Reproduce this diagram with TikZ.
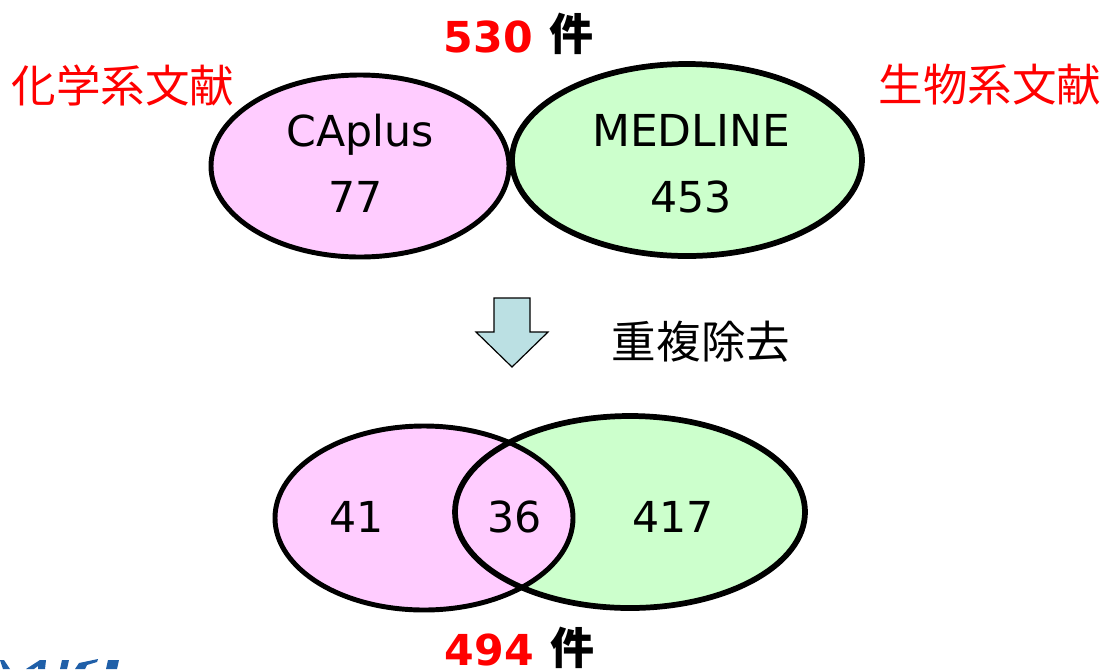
\documentclass[tikz,border=0pt]{standalone}
\usepackage{fontspec}
\setmainfont{DejaVu Sans}
\newfontfamily\cjk{Noto Sans CJK JP}
\definecolor{pinkfill}{HTML}{FFCCFF}
\definecolor{greenfill}{HTML}{CCFFCC}
\definecolor{arrowfill}{HTML}{BBE0E3}
\definecolor{logoblue}{HTML}{1F5FA8}
\tikzset{
  x=0.75pt,y=-0.75pt,
  venn/.style={draw=black,line width=4.3pt},
  vennl/.style={draw=black,line width=3.7pt},
  num/.style={inner sep=0pt,anchor=base,font=\fontsize{32}{36}\selectfont},
  jp/.style={inner sep=0pt,font=\fontsize{33.4}{36}\selectfont\cjk},
  redjp/.style={jp,text=red},
  total/.style={inner sep=0pt,anchor=base east,font=\fontsize{32}{34}\selectfont\bfseries},
  kensym/.style={inner sep=0pt,anchor=base west,font=\fontsize{33}{34}\selectfont\bfseries\cjk},
  logo/.style={fill=logoblue,draw=none}
}
\begin{document}
\begin{tikzpicture}
\useasboundingbox (0,0) rectangle (1102,669);
\fill[white] (0,0) rectangle (1102,669);
% top ellipses
\draw[vennl,fill=pinkfill] (360,166) ellipse [x radius=149,y radius=91];
\draw[venn,fill=greenfill] (687,160) ellipse [x radius=175,y radius=96];
% bottom ellipses
\draw[venn,fill=greenfill] (630,512) ellipse [x radius=175,y radius=96];
\draw[vennl,fill=pinkfill] (424,518) ellipse [x radius=149,y radius=92];
\begin{scope}
\clip (424,518) ellipse [x radius=149,y radius=92];
\draw[venn] (630,512) ellipse [x radius=175,y radius=96];
\end{scope}
% arrow
\draw[fill=arrowfill,line width=0.9pt,line join=miter]
  (494,298) -- (530,298) -- (530,332) -- (548,332) -- (512,367) -- (476,332) -- (494,332) -- cycle;
% texts
\node[num] (caplus) at (360,146) {CAplus};
\node[num] (n77) at (356,212) {77};
\node[num,font=\fontsize{33}{36}\selectfont] (medline) at (691,146) {MEDLINE};
\node[num] (n453) at (691,212) {453};
\node[num] (n41) at (357,532) {41};
\node[num] (n36) at (515,532) {36};
\node[num] (n417) at (673,532) {417};
\node[redjp] (chem) at (123,85) {化学系文献};
\node[redjp] (bio) at (990,85) {生物系文献};
\node[jp] (dedup) at (701,342) {重複除去};
\node[total,text=red] (t530) at (533,52) {530};
\node[kensym] (k530) at (549,50) {件};
\node[total,text=red] (t494) at (534,665) {494};
\node[kensym] (k494) at (550,664) {件};
% clipped logo fragment
\begin{scope}
\clip (0,620) rectangle (200,669);
\fill[logo] (0,660) -- (4,660) -- (10,669) -- (3,669) -- cycle;
\fill[logo] (26,669) -- (40,660) -- (46,660) -- (45,669) -- (38,669) -- (38,666) -- (34,669) -- cycle;
\fill[logo] (60,669) -- (62,660) -- (69,660) -- (67,669) -- cycle;
\fill[logo] (75,669) -- (79,663) -- (98,659) -- (97,662) -- (87,665) -- (85,669) -- cycle;
\fill[logo] (106,669) -- (108,660) -- (119,660) -- (117,669) -- cycle;
\end{scope}
\end{tikzpicture}
\end{document}
